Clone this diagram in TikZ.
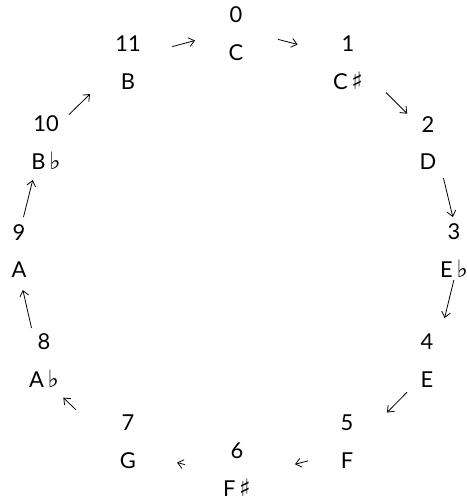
\documentclass[tikz,border=0pt]{standalone}
\usepackage{fontspec}
\setmainfont{Lato}
\newfontfamily\symfont{DejaVu Sans}
\usetikzlibrary{arrows.meta, calc}
\newcommand{\shrp}{\,{\symfont\fontsize{24}{24}\selectfont ♯}}
\newcommand{\flt}{\,{\symfont\fontsize{24}{24}\selectfont ♭}}
\tikzset{
  every picture/.style={line width=0.8pt, x=1bp, y=-1bp},
  pc/.style={align=center, font=\fontsize{22}{38}\selectfont, inner sep=0pt},
  move/.style={-{Straight Barb[length=5.5pt, width=9pt]}},
}

\begin{document}
\begin{tikzpicture}
  \useasboundingbox (0,0) rectangle (467,502);
  % pitch classes, number over name
  \node[pc] (p0)  at (236,34)  {0\\C};
  \node[pc] (p1)  at (348,63)  {1\\C\shrp};
  \node[pc] (p2)  at (428,143) {2\\D};
  \node[pc] (p3)  at (454,251) {3\\E\flt};
  \node[pc] (p4)  at (427,361) {4\\E};
  \node[pc] (p5)  at (347,442) {5\\F};
  \node[pc] (p6)  at (237,470) {6\\F\shrp};
  \node[pc] (p7)  at (128,442) {7\\G};
  \node[pc] (p8)  at (44,361)  {8\\A\flt};
  \node[pc] (p9)  at (19,251)  {9\\A};
  \node[pc] (p10) at (46,143)  {10\\B\flt};
  \node[pc] (p11) at (128,63)  {11\\B};
  % a/b/start/end/dx/dy
  \foreach \a/\b/\s/\e/\dx/\dy in {11/0/0.41/0.62/0/-4.5, 0/1/0.375/0.55/0/-5.5,
      1/2/0.475/0.74/0/-8.5, 2/3/0.324/0.685/7/0, 3/4/0.264/0.609/7/0,
      4/5/0.25/0.5/0/11, 5/6/0.355/0.473/0/9, 6/7/0.477/0.55/0/8,
      7/8/0.62/0.77/0/18, 8/9/0.3/0.645/-5/0, 9/10/0.315/0.657/-4/0,
      10/11/0.28/0.537/0/-6}
    \draw[move] ($(p\a)!\s!(p\b)+(\dx,\dy)$) -- ($(p\a)!\e!(p\b)+(\dx,\dy)$);
\end{tikzpicture}
\end{document}
